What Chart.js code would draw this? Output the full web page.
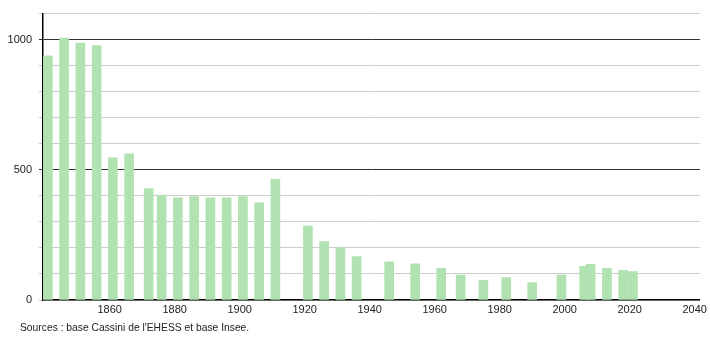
<!DOCTYPE html>
<html>
<head>
<meta charset="utf-8">
<script src="https://cdn.jsdelivr.net/npm/chart.js@4/dist/chart.umd.min.js"></script>
<style>
    body { margin: 0; background: #fff; }
    .wrap { position: relative; width: 710px; height: 340px; }
    .source {
        position: absolute; left: 20px; top: 322px;
        font: 10.3px "Liberation Sans", Arial, sans-serif; color: #222;
    }
</style>
</head>
<body>
<div class="wrap">
    <canvas id="graph" width="710" height="340"></canvas>
    <div class="source">Sources : base Cassini de l'EHESS et base Insee.</div>
</div>
<script>
// census years and population
const years = [1841, 1846, 1851, 1856, 1861, 1866, 1872, 1876, 1881, 1886, 1891, 1896, 1901, 1906, 1911,
    1921, 1926, 1931, 1936, 1946, 1954, 1962, 1968, 1975, 1982, 1990, 1999, 2006, 2008, 2013, 2018, 2021]
const population = [938, 1006, 987, 977, 546, 561, 428, 403, 392, 397, 392, 392, 397, 373, 463,
    284, 224, 200, 167, 147, 139, 122, 96, 76, 86, 67, 96, 129, 137, 122, 114, 109]
const xTicks = [1860, 1880, 1900, 1920, 1940, 1960, 1980, 2000, 2020, 2040]
const yLabels = [0, 500, 1000]

const font = { family: '"Liberation Sans", Arial, sans-serif', size: 11 }

new Chart(document.getElementById("graph"), {
    type: 'bar',
    data: {
        datasets: [{
            data: years.map((y, i) => ({ x: y, y: population[i] })),
            backgroundColor: '#b1e2b1',
            borderWidth: 0,
            barThickness: 9
        }]
    },
    options: {
        responsive: false,
        animation: false,
        layout: { padding: { top: 10, right: 9, bottom: 20, left: 0 } },
        plugins: { legend: { display: false }, tooltip: { enabled: false } },
        scales: {
            x: {
                type: 'linear',
                offset: false,
                min: 1839.5,
                max: 2041.6,
                afterBuildTicks: (s) => { s.ticks = xTicks.map(v => ({ value: v })) },
                afterFit: (s) => { s.height = 20 },
                grid: { display: false, drawTicks: false, tickLength: 0 },
                border: { color: '#000', width: 1.5 },
                ticks: {
                    autoSkip: false, maxRotation: 0, color: '#222', font: font, padding: 3,
                    callback: (v) => String(v)
                }
            },
            y: {
                min: 0,
                max: 1100,
                afterFit: (s) => { s.width = 43 },
                grid: {
                    tickLength: 4,
                    color: (c) => (c.tick.value === 500 || c.tick.value === 1000) ? '#333' : '#ccc',
                    lineWidth: 1
                },
                border: { color: '#000', width: 1.5 },
                ticks: {
                    stepSize: 100,
                    color: '#222',
                    font: font,
                    padding: 7,
                    callback: (v) => yLabels.includes(v) ? String(v) : ''
                }
            }
        }
    }
})
</script>
</body>
</html>
